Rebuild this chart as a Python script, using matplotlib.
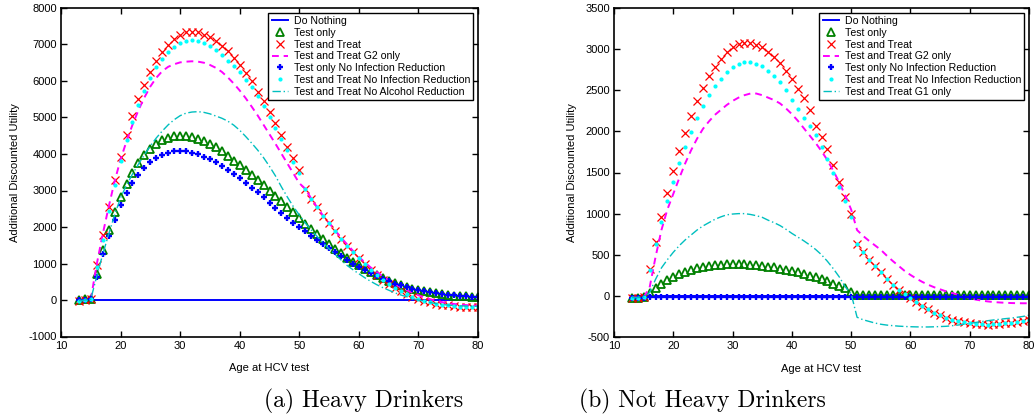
import matplotlib
matplotlib.use("Agg")
import matplotlib.pyplot as plt

# ages tested (one point per year)
ages = list(range(13, 81))

labels_a = ["Do Nothing", "Test only", "Test and Treat", "Test and Treat G2 only",
            "Test only No Infection Reduction", "Test and Treat No Infection Reduction",
            "Test and Treat No Alcohol Reduction"]
labels_b = ["Do Nothing", "Test only", "Test and Treat", "Test and Treat G2 only",
            "Test only No Infection Reduction", "Test and Treat No Infection Reduction",
            "Test and Treat G1 only"]

# ---- (a) heavy drinkers ----
a_nothing = [0] * len(ages)
a_test = [0, 20, 30, 710, 1360, 1920, 2400, 2810, 3170, 3480,
          3750, 3970, 4140, 4280, 4380, 4450, 4490, 4500, 4490, 4460,
          4410, 4350, 4270, 4180, 4080, 3950, 3820, 3690, 3560, 3430,
          3290, 3150, 3000, 2850, 2700, 2550, 2400, 2240, 2090, 1940,
          1800, 1660, 1530, 1400, 1280, 1160, 1050, 950, 850, 760,
          680, 600, 530, 470, 410, 360, 310, 270, 240, 210,
          180, 160, 140, 120, 110, 100, 90, 80]
a_tt = [-20, 0, 20, 960, 1780, 2560, 3290, 3930, 4520, 5050,
        5500, 5900, 6260, 6550, 6790, 6990, 7150, 7270, 7330, 7340,
        7330, 7270, 7200, 7090, 6970, 6810, 6630, 6440, 6220, 5990,
        5710, 5440, 5140, 4840, 4520, 4200, 3880, 3570, 3050, 2780,
        2540, 2300, 2100, 1890, 1680, 1490, 1310, 1140, 980, 820,
        690, 550, 440, 320, 240, 160, 90, 30, -20, -60,
        -100, -130, -150, -165, -180, -185, -190, -195]
a_g2 = [-20, 0, 20, 980, 1800, 2550, 3250, 3850, 4350, 4800,
        5200, 5550, 5850, 6090, 6270, 6390, 6460, 6510, 6530, 6540,
        6530, 6500, 6440, 6360, 6250, 6100, 5930, 5740, 5530, 5300,
        5060, 4800, 4540, 4280, 4010, 3740, 3470, 3200, 3050, 2780,
        2540, 2310, 2110, 1910, 1710, 1530, 1350, 1180, 1030, 890,
        770, 650, 540, 440, 350, 270, 200, 130, 70, 20,
        -20, -60, -90, -110, -130, -140, -150, -155]
a_test_ni = [0, 10, 20, 640, 1260, 1755, 2190, 2600, 2920, 3200,
             3430, 3620, 3780, 3900, 3980, 4040, 4070, 4080, 4070, 4040,
             3990, 3930, 3860, 3770, 3680, 3570, 3460, 3340, 3210, 3080,
             2950, 2810, 2670, 2530, 2390, 2250, 2120, 2000, 1880, 1760,
             1640, 1530, 1420, 1310, 1200, 1100, 1000, 900, 810, 730,
             650, 580, 510, 450, 400, 350, 310, 270, 240, 210,
             180, 160, 140, 125, 110, 100, 90, 80]
a_tt_ni = [-20, 0, 20, 900, 1650, 2450, 3150, 3800, 4370, 4890,
           5330, 5730, 6080, 6370, 6610, 6800, 6940, 7040, 7090, 7110,
           7090, 7040, 6960, 6850, 6710, 6560, 6420, 6240, 6040, 5830,
           5580, 5310, 5020, 4720, 4410, 4100, 3780, 3480, 3050, 2780,
           2540, 2300, 2100, 1890, 1680, 1490, 1310, 1140, 980, 820,
           690, 550, 440, 320, 240, 160, 90, 30, -20, -60,
           -100, -130, -150, -165, -180, -185, -190, -195]
a_noalc = [-20, 0, 20, 650, 1250, 1800, 2330, 2800, 3150, 3450,
           3720, 3980, 4220, 4440, 4630, 4800, 4940, 5050, 5120, 5150,
           5160, 5140, 5100, 5040, 4980, 4900, 4790, 4650, 4480, 4300,
           4110, 3900, 3660, 3400, 3100, 2820, 2560, 2330, 2110, 1920,
           1740, 1570, 1400, 1250, 1100, 950, 830, 720, 610, 510,
           420, 340, 270, 200, 140, 90, 40, 0, -40, -70,
           -100, -120, -140, -150, -160, -165, -170, -170]

# ---- (b) not heavy drinkers ----
b_nothing = [0] * len(ages)
b_test = [-20, -20, -10, 40, 100, 150, 195, 235, 265, 295,
          320, 340, 355, 365, 375, 380, 385, 385, 385, 385,
          380, 375, 365, 355, 345, 330, 315, 300, 285, 265,
          245, 225, 200, 175, 150, 120, 90, 50, 10, 10,
          10, 10, 10, 10, 10, 10, 10, 10, 10, 10,
          10, 10, 10, 10, 10, 10, 10, 10, 10, 10,
          10, 10, 10, 10, 10, 10, 10, 10]
b_tt = [-20, -20, -15, 330, 650, 960, 1255, 1515, 1760, 1985,
        2190, 2370, 2525, 2670, 2780, 2880, 2960, 3020, 3060, 3080,
        3080, 3050, 3025, 2970, 2910, 2830, 2740, 2640, 2520, 2400,
        2255, 2070, 1930, 1780, 1590, 1385, 1200, 1000, 630, 530,
        440, 360, 285, 205, 135, 75, 25, -25, -75, -125,
        -165, -205, -235, -265, -290, -310, -320, -330, -340, -345,
        -350, -345, -340, -330, -325, -315, -305, -290]
b_g2 = [-20, -20, -15, 100, 470, 800, 1050, 1240, 1430, 1610,
        1770, 1910, 2030, 2120, 2200, 2260, 2320, 2370, 2410, 2440,
        2460, 2460, 2440, 2410, 2380, 2340, 2280, 2210, 2130, 2040,
        1950, 1860, 1760, 1650, 1520, 1380, 1220, 1050, 800, 730,
        670, 615, 560, 490, 425, 365, 305, 255, 210, 170,
        135, 105, 80, 55, 35, 15, -5, -25, -45, -57,
        -67, -75, -80, -84, -87, -89, -90, -90]
b_test_ni = [-25, -25, -20, -10, -10, -10, -10, -10, -10, -10,
             -10, -10, -10, -10, -10, -10, -10, -10, -10, -10,
             -10, -10, -10, -10, -10, -10, -10, -10, -10, -10,
             -10, -10, -10, -10, -10, -10, -10, -10, -10, -10,
             -10, -10, -10, -10, -10, -10, -10, -10, -10, -10,
             -10, -10, -10, -10, -10, -10, -10, -10, -10, -10,
             -10, -10, -10, -10, -10, -10, -10, -10]
b_tt_ni = [-20, -20, -15, 320, 630, 900, 1150, 1390, 1610, 1810,
           1990, 2160, 2310, 2440, 2550, 2640, 2720, 2780, 2820, 2840,
           2840, 2820, 2790, 2730, 2670, 2600, 2500, 2380, 2270, 2160,
           2060, 1950, 1810, 1660, 1500, 1320, 1150, 960, 630, 530,
           440, 360, 285, 205, 135, 75, 25, -25, -75, -125,
           -165, -205, -235, -265, -290, -310, -320, -330, -340, -345,
           -350, -345, -340, -330, -325, -315, -305, -290]
b_g1 = [-20, -20, -15, 40, 200, 340, 440, 530, 610, 680,
        740, 800, 850, 890, 930, 960, 985, 995, 1000, 1000,
        990, 975, 955, 920, 890, 855, 810, 760, 715, 670,
        620, 565, 500, 420, 330, 230, 110, 25, -260, -290,
        -310, -330, -345, -355, -362, -368, -372, -375, -377, -378,
        -378, -376, -373, -370, -363, -355, -345, -335, -323, -312,
        -302, -293, -285, -277, -270, -260, -250, -235]

# matlab-ish styles, same order as the legend
styles = [
    dict(color="#0000ff", ls="-", lw=1.4),
    dict(color="#008000", ls="none", marker="^", mfc="none", ms=5.5, mew=1.3),
    dict(color="#ff0000", ls="none", marker="x", ms=6, mew=0.9),
    dict(color="#ff00ff", ls="--", lw=1.4, dashes=(3.5, 2.5)),
    dict(color="#0000ff", ls="none", marker="+", ms=4.5, mew=1.7),
    dict(color="#00ffff", ls="none", marker=".", ms=4),
    dict(color="#00bfbf", ls="-.", lw=1.0, dashes=(6, 2, 1, 2)),
]

plt.rcParams["font.family"] = ["Liberation Sans", "DejaVu Sans"]
plt.rcParams["axes.unicode_minus"] = False


def panel(ax, series, labels, ylim, ystep):
    for y, lab, st in zip(series, labels, styles):
        ax.plot(ages, y, label=lab, **st)
    ax.set_xlim(10, 80)
    ax.set_ylim(*ylim)
    ax.set_xticks(range(10, 81, 10))
    ax.set_yticks(range(ylim[0], ylim[1] + 1, ystep))
    ax.tick_params(direction="in", top=True, right=True, length=4, width=1,
                   labelsize=8, pad=3)
    for s in ax.spines.values():
        s.set_linewidth(1.2)
    ax.set_xlabel("Age at HCV test", fontsize=8, labelpad=9)
    ax.set_ylabel("Additional Discounted Utility", fontsize=8, labelpad=6)
    leg = ax.legend(loc="upper right", fontsize=7.6, fancybox=False,
                    edgecolor="k", framealpha=1, handlelength=1.6,
                    labelspacing=0.17, borderpad=0.3, borderaxespad=0.45,
                    handletextpad=0.5, numpoints=1)
    leg.get_frame().set_linewidth(1.0)


fig = plt.figure(figsize=(10.34, 4.17), dpi=100)
ax1 = fig.add_axes([61 / 1034, 1 - 336.5 / 417, 417 / 1034, 328.5 / 417])
ax2 = fig.add_axes([614 / 1034, 1 - 337 / 417, 415 / 1034, 329 / 417])

panel(ax1, [a_nothing, a_test, a_tt, a_g2, a_test_ni, a_tt_ni, a_noalc],
      labels_a, (-1000, 8000), 1000)
panel(ax2, [b_nothing, b_test, b_tt, b_g2, b_test_ni, b_tt_ni, b_g1],
      labels_b, (-500, 3500), 500)

fig.text(364 / 1034, 1 - 401 / 417, "(a) Heavy Drinkers", family="cmr10",
         fontsize=17, ha="center", va="center")
fig.text(702 / 1034, 1 - 401 / 417, "(b) Not Heavy Drinkers", family="cmr10",
         fontsize=17, ha="center", va="center")

fig.savefig("out.png", dpi=100)
